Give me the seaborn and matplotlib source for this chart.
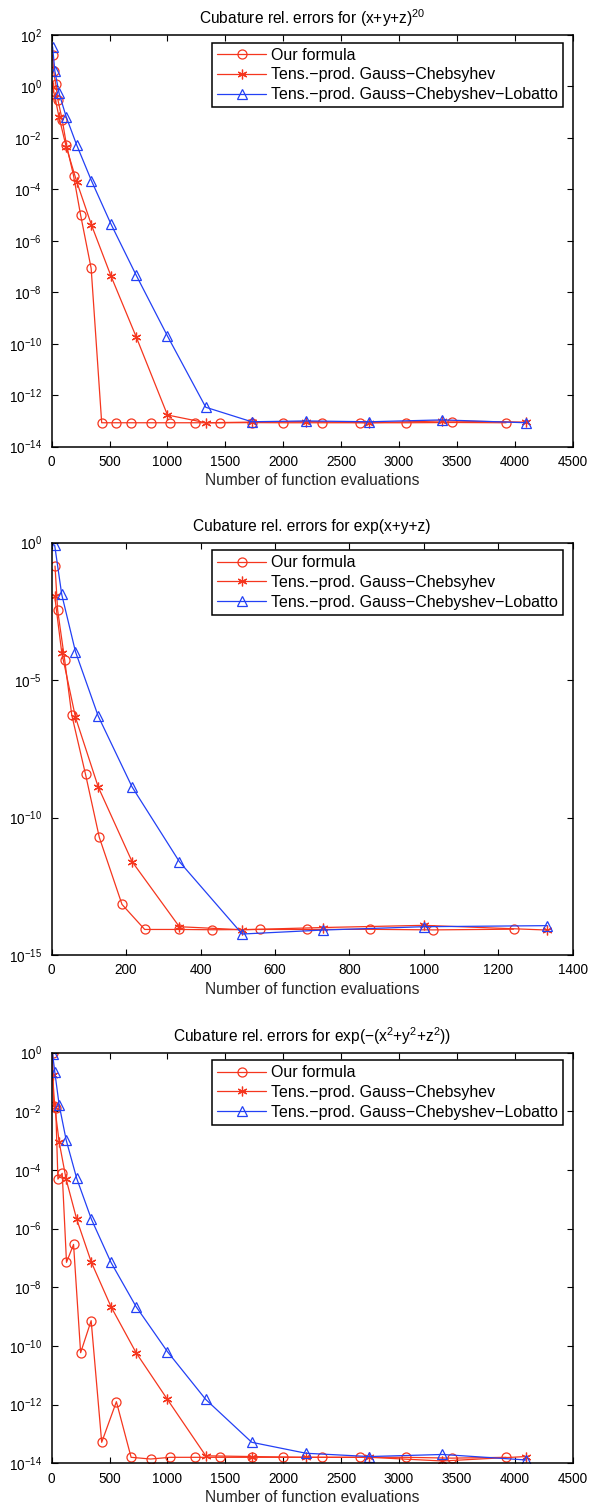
#!/usr/bin/env python3
"""Three-panel cubature error plot (MATLAB look), redrawn with seaborn."""
import matplotlib
matplotlib.use("Agg")
import matplotlib.pyplot as plt
from matplotlib.ticker import NullLocator
import pandas as pd
import seaborn as sns

RED = "#f5361e"
BLUE = "#2340f5"

LABELS = [
    "Our formula",
    "Tens.\u2212prod. Gauss\u2212Chebsyhev",
    "Tens.\u2212prod. Gauss\u2212Chebyshev\u2212Lobatto",
]
TITLES = [
    "Cubature rel. errors for (x+y+z)$^{20}$",
    "Cubature rel. errors for exp(x+y+z)",
    "Cubature rel. errors for exp(\u2212(x$^2$+y$^2$+z$^2$))",
]

# number of nodes
N_OURS = [9, 16, 35, 54, 91, 128, 189, 250, 341, 432, 559, 686, 855, 1024,
          1241, 1458, 1729, 2000, 2331, 2662, 3059, 3456, 3925]
N_OURS_2 = N_OURS[:15]
N_TP = [8, 27, 64, 125, 216, 343, 512, 729, 1000, 1331, 1728, 2197, 2744,
        3375, 4096]
N_TP_2 = N_TP[:10]

# panel 1: (x+y+z)^20
P1_OURS = [16.6, 4.1, 1.25, 0.30, 0.050, 5.3e-3, 3.4e-4, 1.0e-5, 8.5e-8,
           8.5e-14, 8.5e-14, 8.5e-14, 8.5e-14, 8.5e-14, 8.5e-14, 8.5e-14,
           8.6e-14, 8.5e-14, 8.5e-14, 8.5e-14, 8.5e-14, 8.7e-14, 8.5e-14]
P1_GC = [0.93, 0.40, 0.063, 4.6e-3, 2.0e-4, 4.2e-6, 4.3e-8, 1.9e-10,
         1.7e-13, 8.5e-14, 9.0e-14, 9.5e-14, 8.5e-14, 1.0e-13, 9.0e-14]
P1_GCL = [35, 4.1, 0.54, 0.067, 5.3e-3, 2.2e-4, 4.5e-6, 4.7e-8, 2.0e-10,
          3.4e-13, 9.3e-14, 1.0e-13, 9.3e-14, 1.1e-13, 8.5e-14]

# panel 2: exp(x+y+z)
P2_OURS = [0.14, 3.5e-3, 5.3e-5, 5.3e-7, 3.7e-9, 1.9e-11, 6.9e-14, 8.5e-15,
           8.5e-15, 8.3e-15, 8.5e-15, 8.5e-15, 8.6e-15, 8.2e-15, 8.7e-15]
P2_GC = [0.0117, 1.0e-4, 4.4e-7, 1.3e-9, 2.5e-12, 1.07e-14, 8.3e-15,
         1.0e-14, 1.2e-14, 8.1e-15]
P2_GCL = [0.81, 0.013, 1.07e-4, 4.9e-7, 1.3e-9, 2.5e-12, 5.8e-15, 8.1e-15,
          1.07e-14, 1.17e-14]

# panel 3: exp(-(x^2+y^2+z^2))
P3_OURS = [0.95, 0.015, 0.0127, 4.9e-5, 7.7e-5, 7.1e-8, 2.9e-7, 5.9e-11,
           7.3e-10, 5.2e-14, 1.26e-12, 1.6e-14, 1.4e-14, 1.6e-14, 1.6e-14,
           1.6e-14, 1.6e-14, 1.6e-14, 1.6e-14, 1.6e-14, 1.6e-14, 1.5e-14,
           1.6e-14]
P3_GC = [0.17, 0.014, 9.3e-4, 4.8e-5, 2.1e-6, 7.1e-8, 2.2e-9, 5.9e-11,
         1.5e-12, 1.8e-14, 1.7e-14, 1.6e-14, 1.6e-14, 1.2e-14, 1.7e-14]
P3_GCL = [0.9, 0.22, 0.017, 1.06e-3, 5.2e-5, 2.1e-6, 7.1e-8, 2.2e-9,
          6.4e-11, 1.5e-12, 5.2e-14, 2.2e-14, 1.7e-14, 2.0e-14, 1.3e-14]


def setup_style():
    sns.set_theme(style="ticks")
    plt.rcParams.update({
        "font.family": ["Liberation Sans", "DejaVu Sans"],
        "mathtext.fontset": "custom",
        "mathtext.rm": "Liberation Sans",
        "mathtext.it": "Liberation Sans:italic",
        "mathtext.bf": "Liberation Sans:bold",
        "axes.linewidth": 1.1,
        "axes.edgecolor": "black",
        "xtick.color": "black",
        "ytick.color": "black",
        "text.color": "black",
    })


def draw_panel(ax, series, title, xmax, xstep, ylim, yticks):
    styles = [
        dict(color=RED, marker="o", markersize=6.5, markerfacecolor="none",
             markeredgecolor=RED, markeredgewidth=0.9),
        dict(color=RED, marker=(6, 2, 0), markersize=7,
             markeredgecolor=RED, markeredgewidth=0.9),
        dict(color=BLUE, marker="^", markersize=7.5, markerfacecolor="none",
             markeredgecolor=BLUE, markeredgewidth=0.9),
    ]
    for (xs, ys), lab, st in zip(series, LABELS, styles):
        df = pd.DataFrame({"N": xs, "err": ys})
        sns.lineplot(data=df, x="N", y="err", ax=ax, estimator=None,
                     sort=False, linewidth=0.9, label=lab, **st)

    ax.set_yscale("log")
    ax.set_ylim(*ylim)
    ax.set_yticks(yticks)
    ax.yaxis.set_minor_locator(NullLocator())
    ax.set_xlim(0, xmax)
    ax.set_xticks(range(0, xmax + 1, xstep))
    ax.tick_params(which="both", direction="in", top=True, right=True,
                   length=4, width=0.8, labelsize=9.8)
    ax.tick_params(axis="x", pad=6)
    ax.tick_params(axis="y", pad=7)
    ax.set_title(title, fontsize=11.2, pad=8)
    ax.set_xlabel("Number of function evaluations", fontsize=11.2,
                  labelpad=3)
    ax.set_ylabel("")
    for sp in ax.spines.values():
        sp.set_visible(True)
        sp.set_color("black")
    leg = ax.legend(loc="upper left", bbox_to_anchor=(0.3077, 0.981),
                    fontsize=11.5, frameon=True, fancybox=False,
                    edgecolor="black", framealpha=1.0, borderpad=0.3,
                    handlelength=3.1, handletextpad=0.3, labelspacing=0.3,
                    borderaxespad=0.0)
    leg.get_frame().set_linewidth(1.1)


def main():
    setup_style()
    fig = plt.figure(figsize=(5.94, 15.08), dpi=100)
    left, width = 0.0870, 0.8771
    ax1 = fig.add_axes([left, 0.7038, width, 0.2730])
    ax2 = fig.add_axes([left, 0.3667, width, 0.2735])
    ax3 = fig.add_axes([left, 0.02964, width, 0.2723])

    draw_panel(ax1, [(N_OURS, P1_OURS), (N_TP, P1_GC), (N_TP, P1_GCL)],
               TITLES[0], 4500, 500, (1e-14, 1e2),
               [10.0 ** k for k in range(-14, 3, 2)])
    draw_panel(ax2, [(N_OURS_2, P2_OURS), (N_TP_2, P2_GC), (N_TP_2, P2_GCL)],
               TITLES[1], 1400, 200, (1e-15, 1e0),
               [10.0 ** k for k in range(-15, 1, 5)])
    draw_panel(ax3, [(N_OURS, P3_OURS), (N_TP, P3_GC), (N_TP, P3_GCL)],
               TITLES[2], 4500, 500, (1e-14, 1e0),
               [10.0 ** k for k in range(-14, 1, 2)])

    fig.savefig("out.png", dpi=100)
    plt.close(fig)


if __name__ == "__main__":
    main()
